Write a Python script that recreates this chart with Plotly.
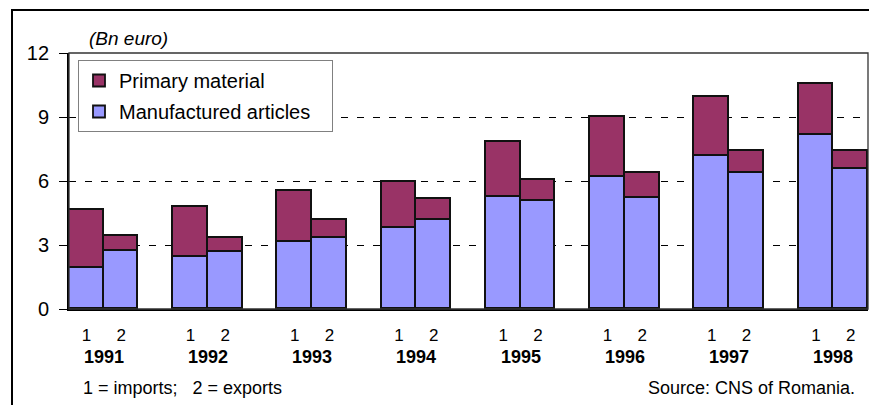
import plotly.graph_objects as go

# ---- data (Bn euro) ----
years = ["1991", "1992", "1993", "1994", "1995", "1996", "1997", "1998"]
flow_labels = ["1", "2"]  # 1 = imports, 2 = exports
imports_manufactured = [1.92, 2.44, 3.13, 3.78, 5.24, 6.20, 7.19, 8.16]
imports_primary = [2.71, 2.36, 2.40, 2.19, 2.60, 2.78, 2.76, 2.40]
exports_manufactured = [2.73, 2.67, 3.33, 4.16, 5.06, 5.22, 6.36, 6.56]
exports_primary = [0.71, 0.67, 0.84, 0.98, 0.99, 1.14, 1.05, 0.85]
y_ticks = [0, 3, 6, 9, 12]

FONT = "Arial, 'Liberation Sans', sans-serif"
C_PRIMARY = "#993366"
C_MANUF = "#9999FF"

# positions: each year group = two adjacent bars, then a one-bar gap
xpos, manuf_vals, prim_vals, tick_text, year_pos = [], [], [], [], []
for i, yr in enumerate(years):
    base = 3 * i
    xpos += [base + 0.5, base + 1.5]
    manuf_vals += [imports_manufactured[i], exports_manufactured[i]]
    prim_vals += [imports_primary[i], exports_primary[i]]
    tick_text += flow_labels
    year_pos.append(base + 1.0)

fig = go.Figure()
fig.add_trace(go.Bar(
    x=xpos, y=manuf_vals, name="Manufactured articles&nbsp;&nbsp;&nbsp;",
    marker=dict(color=C_MANUF, line=dict(color="#111111", width=1.8)),
    legendgroup="m", legendrank=2,
))
fig.add_trace(go.Bar(
    x=xpos, y=prim_vals, name="Primary material",
    marker=dict(color=C_PRIMARY, line=dict(color="#111111", width=1.8)),
    legendgroup="p", legendrank=1,
))

annotations = []
for xp, yr in zip(year_pos, years):
    annotations.append(dict(
        x=xp, xref="x", y=(309 - 357) / 256, yref="paper", text="<b>" + yr + "</b>",
        showarrow=False, xanchor="center", yanchor="middle",
        font=dict(family=FONT, size=18, color="#000000"),
    ))
annotations += [
    dict(x=(87 - 69) / 799, xref="paper", y=(309 - 38) / 256, yref="paper",
         text="<i>(Bn euro)</i>", showarrow=False, xanchor="left", yanchor="middle",
         font=dict(family=FONT, size=19, color="#000000")),
    dict(x=(81 - 69) / 799, xref="paper", y=(309 - 388) / 256, yref="paper",
         text="1 = imports;&nbsp;&nbsp; 2 = exports", showarrow=False,
         xanchor="left", yanchor="middle",
         font=dict(family=FONT, size=18, color="#000000")),
    dict(x=(857 - 69) / 799, xref="paper", y=(309 - 388) / 256, yref="paper",
         text="Source: CNS of Romania.", showarrow=False,
         xanchor="right", yanchor="middle",
         font=dict(family=FONT, size=18, color="#000000")),
]

shapes = [
    # outer frame
    dict(type="rect", xref="paper", yref="paper",
         x0=(12 - 69) / 799, x1=1.2, y0=-0.6, y1=(309 - 10) / 256,
         line=dict(color="#000000", width=2), layer="above"),
    # plot-area border (top/right)
    dict(type="rect", xref="paper", yref="paper", x0=0, x1=1, y0=0, y1=1,
         line=dict(color="#333333", width=1.3), layer="above"),
]

fig.update_layout(
    width=869, height=405,
    margin=dict(l=69, r=1, t=53, b=96),
    paper_bgcolor="#ffffff", plot_bgcolor="#ffffff",
    barmode="stack", bargap=0,
    font=dict(family=FONT, color="#000000"),
    showlegend=True,
    legend=dict(
        x=(78 - 69) / 799, y=(309 - 60) / 256, xanchor="left", yanchor="top",
        bgcolor="#ffffff", bordercolor="#808080", borderwidth=1,
        font=dict(family=FONT, size=20, color="#000000"),
        traceorder="grouped", tracegroupgap=2,
    ),
    xaxis=dict(
        range=[0, 23], tickmode="array", tickvals=xpos, ticktext=tick_text,
        ticks="", showgrid=False, zeroline=False,
        showline=True, linecolor="#000000", linewidth=1.5,
        tickfont=dict(family=FONT, size=17, color="#000000"),
        ticklabelstandoff=10,
    ),
    yaxis=dict(
        range=[0, 12], tickmode="array", tickvals=y_ticks,
        ticks="outside", ticklen=8, tickcolor="#000000", tickwidth=1.3,
        showgrid=True, gridcolor="#000000", gridwidth=1, griddash="7px,9px",
        zeroline=False, showline=True, linecolor="#000000", linewidth=1.8,
        tickfont=dict(family=FONT, size=20, color="#000000"),
        ticklabelstandoff=6,
    ),
    annotations=annotations,
    shapes=shapes,
)

fig.write_html(
    "out.html",
    config={"displayModeBar": False},
    post_script="document.body.style.margin='0';document.body.style.padding='0';",
)
